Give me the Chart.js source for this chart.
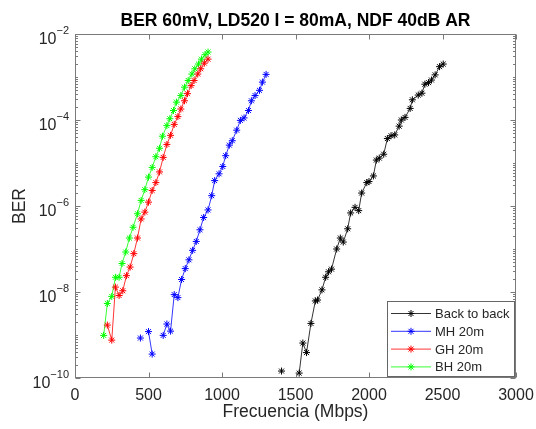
<!DOCTYPE html>
<html>
<head>
<meta charset="utf-8">
<title>BER 60mV</title>
<script src="https://cdn.jsdelivr.net/npm/chart.js@4.4.0/dist/chart.umd.min.js"></script>
<style>
    html, body { margin: 0; padding: 0; background: #ffffff; }
    #wrap { width: 536px; height: 429px; }
</style>
</head>
<body>
<div id="wrap"><canvas id="berChart" width="536" height="429"></canvas></div>
<script>
const b2bRate = [1405, 1465, 1525, 1550, 1575, 1605, 1635, 1650, 1680, 1705, 1725, 1745, 1780, 1805, 1825, 1855, 1875, 1905, 1930, 1950, 1985, 2000, 2030, 2050, 2070, 2100, 2125, 2150, 2175, 2205, 2220, 2245, 2280, 2295, 2335, 2360, 2380, 2405, 2425, 2450, 2480, 2505];
const b2bBer = [1.45e-10, null, 1.3e-10, 6.5e-10, 3.9e-10, 1.86e-9, 6.2e-9, 6.5e-9, 1.12e-8, 2.2e-8, 2.95e-8, 3.4e-8, 1.0e-7, 1.8e-7, 1.45e-7, 2.95e-7, 6.9e-7, 9.3e-7, 7.8e-7, 2.0e-6, 3.5e-6, 3.7e-6, 5.0e-6, 1.17e-5, 1.3e-5, 1.6e-5, 3.7e-5, 4.3e-5, 4.5e-5, 7.2e-5, 1.0e-4, 1.15e-4, 1.86e-4, 2.95e-4, 3.8e-4, 4.2e-4, 6.8e-4, 7.4e-4, 8.5e-4, 1.12e-3, 1.74e-3, 2.0e-3];

const mhRate = [445, 475, 500, 525, 560, 600, 625, 650, 675, 700, 725, 750, 775, 800, 825, 850, 875, 905, 930, 950, 980, 1005, 1025, 1050, 1070, 1100, 1125, 1150, 1180, 1200, 1225, 1255, 1275, 1300];
const mhBer = [8.5e-10, null, 1.2e-9, 3.6e-10, null, 9.8e-10, 1.8e-9, 1.23e-9, 8.7e-9, 7.4e-9, 1.95e-8, 3.5e-8, 5.6e-8, 9.3e-8, 1.5e-7, 2.8e-7, 5.4e-7, 8.1e-7, 1.74e-6, 3.9e-6, 5.6e-6, 8.3e-6, 1.48e-5, 2.6e-5, 3.3e-5, 5.8e-5, 9.8e-5, 1.12e-4, 1.66e-4, 2.8e-4, 3.7e-4, 4.9e-4, 7.6e-4, 1.15e-3];

const ghRate = [220, 250, 275, 300, 325, 350, 375, 400, 425, 450, 475, 500, 525, 550, 575, 600, 625, 650, 675, 700, 720, 745, 765, 790, 810, 835, 855, 880, 905];
const ghBer = [1.7e-9, 7.6e-10, 1.3e-8, 8.3e-9, 1.07e-8, 2.4e-8, 3.8e-8, 7.8e-8, 1.8e-7, 5.0e-7, 7.2e-7, 1.23e-6, 2.3e-6, 3.5e-6, 6.2e-6, 1.35e-5, 2.7e-5, 4.4e-5, 7.9e-5, 1.2e-4, 1.8e-4, 2.8e-4, 4.1e-4, 6.3e-4, 8.3e-4, 1.17e-3, 1.55e-3, 2.1e-3, 2.6e-3];

const bhRate = [195, 220, 250, 275, 300, 320, 345, 370, 395, 425, 450, 475, 500, 525, 550, 575, 595, 625, 645, 670, 690, 720, 745, 770, 795, 815, 840, 860, 885, 905];
const bhBer = [9.8e-10, 5.4e-9, 7.9e-9, 2.2e-8, 2.2e-8, 4.6e-8, 8.5e-8, 1.8e-7, 3.2e-7, 6.6e-7, 1.35e-6, 2.4e-6, 4.7e-6, 7.9e-6, 1.4e-5, 2.2e-5, 4.2e-5, 7.4e-5, 1.07e-4, 1.66e-4, 2.6e-4, 3.7e-4, 5.8e-4, 8.3e-4, 1.17e-3, 1.55e-3, 2.0e-3, 2.6e-3, 3.3e-3, 3.8e-3];

const seriesLabels = ['Back to back', 'MH 20m', 'GH 20m', 'BH 20m'];
const seriesColors = ['#000000', '#0000ff', '#ff0000', '#00ff00'];

// Axis ticks
const xTicks = [0, 500, 1000, 1500, 2000, 2500, 3000];
const yExponents = [-2, -4, -6, -8, -10];

const TEXT_COLOR = '#262626';
const AXIS_COLOR = '#7a7a7a';
const FONT = '"Liberation Sans", Arial, Helvetica, sans-serif';

function toPoints(rate, ber) {
    return rate.map((x, i) => ({ x: x, y: ber[i] }));
}

function makeDataset(idx, rate, ber) {
    return {
        label: seriesLabels[idx],
        data: toPoints(rate, ber),
        borderColor: seriesColors[idx],
        backgroundColor: seriesColors[idx],
        borderWidth: 0.8,
        pointStyle: 'star',
        pointRadius: 3.5,
        pointBorderWidth: 1,
        pointBorderColor: seriesColors[idx],
        spanGaps: false,
        tension: 0
    };
}

/**
 * MATLAB style frame: box, inward ticks, labels, titles and legend
 */
const matlabFrame = {
    id: 'matlabFrame',
    afterDatasetsDraw(chart) {
        const ctx = chart.ctx;
        const area = chart.chartArea;
        const xs = chart.scales.x;
        const ys = chart.scales.y;
        const L = area.left + 0.5, R = area.right - 0.5;
        const T = area.top + 0.5, B = area.bottom - 0.5;

        ctx.save();
        ctx.strokeStyle = AXIS_COLOR;
        ctx.lineWidth = 1;

        // x ticks (bottom + top)
        ctx.beginPath();
        xTicks.forEach(v => {
            const px = Math.round(xs.getPixelForValue(v)) + 0.5;
            ctx.moveTo(px, B); ctx.lineTo(px, B - 5);
            ctx.moveTo(px, T); ctx.lineTo(px, T + 5);
        });
        // y ticks, major at labelled decades, minor elsewhere
        for (let e = -10; e <= -3; e++) {
            for (let m = 1; m <= 9; m++) {
                const v = m * Math.pow(10, e);
                const py = Math.round(ys.getPixelForValue(v)) + 0.5;
                const major = (m === 1 && e % 2 === 0);
                const len = major ? 5 : 2.5;
                ctx.moveTo(L, py); ctx.lineTo(L + len, py);
                ctx.moveTo(R, py); ctx.lineTo(R - len, py);
            }
        }
        ctx.stroke();

        // box
        ctx.strokeRect(L, T, R - L, B - T);

        // tick labels
        ctx.fillStyle = TEXT_COLOR;
        ctx.font = '16px ' + FONT;
        ctx.textAlign = 'center';
        ctx.textBaseline = 'middle';
        xTicks.forEach(v => {
            ctx.fillText(String(v), xs.getPixelForValue(v), area.bottom + 18);
        });

        yExponents.forEach(e => {
            const py = ys.getPixelForValue(Math.pow(10, e));
            const expText = '\u2212' + Math.abs(e);
            ctx.font = '11px ' + FONT;
            const expW = ctx.measureText(expText).width;
            const expX = area.left - 6 - expW;
            ctx.textAlign = 'left';
            ctx.fillText(expText, expX, py - 3);
            ctx.font = '16px ' + FONT;
            ctx.textAlign = 'right';
            ctx.fillText('10', expX, py + 6);
        });

        // axis titles
        ctx.font = '17.5px ' + FONT;
        ctx.textAlign = 'center';
        ctx.fillText('Frecuencia (Mbps)', (area.left + area.right) / 2, area.bottom + 34);
        ctx.save();
        ctx.translate(20, (area.top + area.bottom) / 2);
        ctx.rotate(-Math.PI / 2);
        ctx.fillText('BER', 0, 0);
        ctx.restore();

        // chart title
        ctx.font = 'bold 17.5px ' + FONT;
        ctx.fillStyle = '#000000';
        ctx.fillText('BER 60mV, LD520 I = 80mA, NDF 40dB AR', (area.left + area.right) / 2, 21);

        // legend box, bottom right
        const boxR = area.right - 1, boxB = area.bottom - 1;
        const boxL = boxR - 128, boxT = boxB - 76;
        ctx.fillStyle = '#ffffff';
        ctx.fillRect(boxL, boxT, boxR - boxL, boxB - boxT);
        ctx.strokeStyle = '#666666';
        ctx.strokeRect(boxL + 0.5, boxT + 0.5, boxR - boxL - 1, boxB - boxT - 1);

        ctx.font = '13px ' + FONT;
        ctx.textAlign = 'left';
        chart.data.datasets.forEach((ds, i) => {
            const rowY = boxT + 12.5 + i * 17.8;
            ctx.strokeStyle = ds.borderColor;
            ctx.lineWidth = 0.8;
            ctx.beginPath();
            ctx.moveTo(boxL + 4, rowY);
            ctx.lineTo(boxL + 44, rowY);
            ctx.stroke();
            ctx.lineWidth = 1;
            Chart.helpers.drawPoint(ctx, {
                pointStyle: 'star', radius: 3.5, borderWidth: 1, rotation: 0
            }, boxL + 24, rowY);
            ctx.fillStyle = TEXT_COLOR;
            ctx.fillText(ds.label, boxL + 48, rowY + 1);
        });

        ctx.restore();
    }
};

new Chart(document.getElementById('berChart'), {
    type: 'line',
    data: {
        datasets: [
            makeDataset(0, b2bRate, b2bBer),
            makeDataset(1, mhRate, mhBer),
            makeDataset(2, ghRate, ghBer),
            makeDataset(3, bhRate, bhBer)
        ]
    },
    options: {
        responsive: false,
        animation: false,
        devicePixelRatio: 1,
        layout: {
            padding: { left: 75, top: 34, right: 20, bottom: 51 }
        },
        plugins: {
            legend: { display: false },
            tooltip: { enabled: false },
            title: { display: false }
        },
        scales: {
            x: {
                type: 'linear',
                min: 0,
                max: 3000,
                display: false
            },
            y: {
                type: 'logarithmic',
                min: 1e-10,
                max: 1e-2,
                display: false
            }
        }
    },
    plugins: [matlabFrame]
});
</script>
</body>
</html>
